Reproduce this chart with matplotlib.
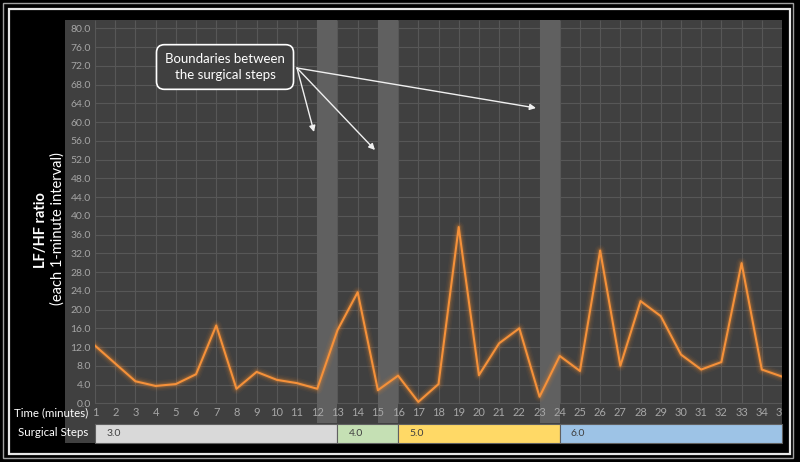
import matplotlib.pyplot as plt
import matplotlib.patches as mpatches
import numpy as np

plt.rcParams['font.family'] = ['Lato', 'DejaVu Sans']

# ---------------- data ----------------
minutes = list(range(1, 36))
lf_hf = [12.3, 8.5, 4.7, 3.7, 4.1, 6.2, 16.6, 3.1, 6.7, 5.0,
         4.3, 3.1, 15.6, 23.7, 2.8, 5.9, 0.3, 4.1, 37.6, 6.0,
         12.8, 16.0, 1.4, 10.1, 6.9, 32.6, 8.0, 21.8, 18.6, 10.4,
         7.2, 8.8, 29.9, 7.2, 5.7]
boundaries = [12, 15, 23]          # shaded band starts (one minute wide)
step_names = ["3.0", "4.0", "5.0", "6.0"]
step_start = [1, 13, 16, 24]
step_end = [13, 16, 24, 35]
step_colors = ["#d9d9d9", "#c5e0b4", "#ffd966", "#9dc3e6"]

W, H = 800, 462
fig = plt.figure(figsize=(W / 100, H / 100), dpi=100, facecolor="black")

def fx(px):
    return px / W

def fy(py):
    return 1 - py / H

# frame lines
fig.patches.append(mpatches.Rectangle((fx(3), fy(458)), fx(790), (458 - 3) / H,
                                      transform=fig.transFigure, fill=False,
                                      ec="#a0a0a0", lw=1, zorder=-2))
fig.patches.append(mpatches.Rectangle((fx(9), fy(454)), fx(781), (454 - 9) / H,
                                      transform=fig.transFigure, fill=False,
                                      ec="#e8e8e8", lw=1.6, zorder=-2))
# dark panel
fig.patches.append(mpatches.Rectangle((fx(65), fy(443)), fx(782 - 65), (443 - 20) / H,
                                      transform=fig.transFigure, fc="#404040", ec="none",
                                      zorder=-1))

# axes: x=1 at px 95, x=35 at px 782; y=0 at px 403.3, 80 at px 28.3
ppu = (403.3 - 28.3) / 80
ytop = 80 + (28.3 - 20) / ppu
ybot = -(422.7 - 403.3) / ppu
ax = fig.add_axes([fx(95), fy(422.7), fx(782 - 95), (422.7 - 20) / H])
ax.set_facecolor("none")
ax.set_xlim(1, 35)
ax.set_ylim(ybot, ytop)
for s in ax.spines.values():
    s.set_visible(False)

# grid
for yv in np.arange(0, 81, 4):
    ax.axhline(yv, color="#575757", lw=0.8, zorder=1)
ax.vlines(minutes, 0, ytop, color="#575757", lw=0.8, zorder=1)

# boundary bands
for b in boundaries:
    ax.axvspan(b, b + 1, color="#606060", zorder=2, lw=0)

# line with glow
for lw, a in [(8, 0.05), (6, 0.07), (4.2, 0.11), (3.0, 0.16)]:
    ax.plot(minutes, lf_hf, color="#f08a30", lw=lw, alpha=a, zorder=3,
            solid_joinstyle="round", solid_capstyle="round")
ax.plot(minutes, lf_hf, color="#f5913a", lw=1.5, zorder=4)

# y ticks
ax.set_yticks(np.arange(0, 81, 4))
ax.set_yticklabels([f"{v:.1f}" for v in np.arange(0, 81, 4)])
ax.tick_params(axis="y", length=0, pad=3, colors="#a6a6a6", labelsize=7.5)
ax.set_xticks([])

# x labels (time) - last one is cut by the panel edge
for m in minutes:
    ax.text(m, -(413 - 403.3) / ppu, str(m), ha="center", va="center",
            color="#a6a6a6", fontsize=8, zorder=5, clip_on=(m == minutes[-1]))

# surgical step bar
bar_top = -(423.5 - 403.3) / ppu
bar_bot = -(443 - 403.3) / ppu
for name, s0, s1, c in zip(step_names, step_start, step_end, step_colors):
    ax.add_patch(mpatches.Rectangle((s0, bar_bot), s1 - s0, bar_top - bar_bot,
                                    fc=c, ec="#606060", lw=0.8, clip_on=False, zorder=5))
    ax.text(s0 + 0.55, (bar_top + bar_bot) / 2, name, ha="left", va="center",
            color="#404040", fontsize=7.5, clip_on=False, zorder=6)

# row labels
fig.text(fx(88), fy(413), "Time (minutes)", ha="right", va="center",
         color="white", fontsize=8.3)
fig.text(fx(88), fy(433), "Surgical Steps", ha="right", va="center",
         color="white", fontsize=8.3)

# y axis title
fig.text(fx(41), fy(230), "LF/HF ratio", rotation=90, ha="center", va="center",
         color="white", fontsize=10.5, fontweight="bold")
fig.text(fx(58), fy(229), "(each 1-minute interval)", rotation=90, ha="center",
         va="center", color="white", fontsize=10.5)

# annotation
def to_data(px, py):
    return 1 + (px - 95) / ((782 - 95) / 34), (403.3 - py) / ppu

tx, ty = to_data(225, 67)
ax.text(tx, ty, "Boundaries between\nthe surgical steps", ha="center", va="center",
        color="white", fontsize=9.5, linespacing=1.35, zorder=7,
        bbox=dict(boxstyle="round,pad=0.65,rounding_size=0.6", fc="#404040",
                  ec="white", lw=1.2))
start = to_data(297, 68)
for px, py in [(314, 132), (375, 150), (536, 108)]:
    ax.annotate("", xy=to_data(px, py), xytext=start, zorder=7,
                arrowprops=dict(arrowstyle="-|>", color="#f0f0f0", lw=1,
                                mutation_scale=9, shrinkA=0, shrinkB=0))

fig.savefig("out.png", dpi=100, facecolor="black")
